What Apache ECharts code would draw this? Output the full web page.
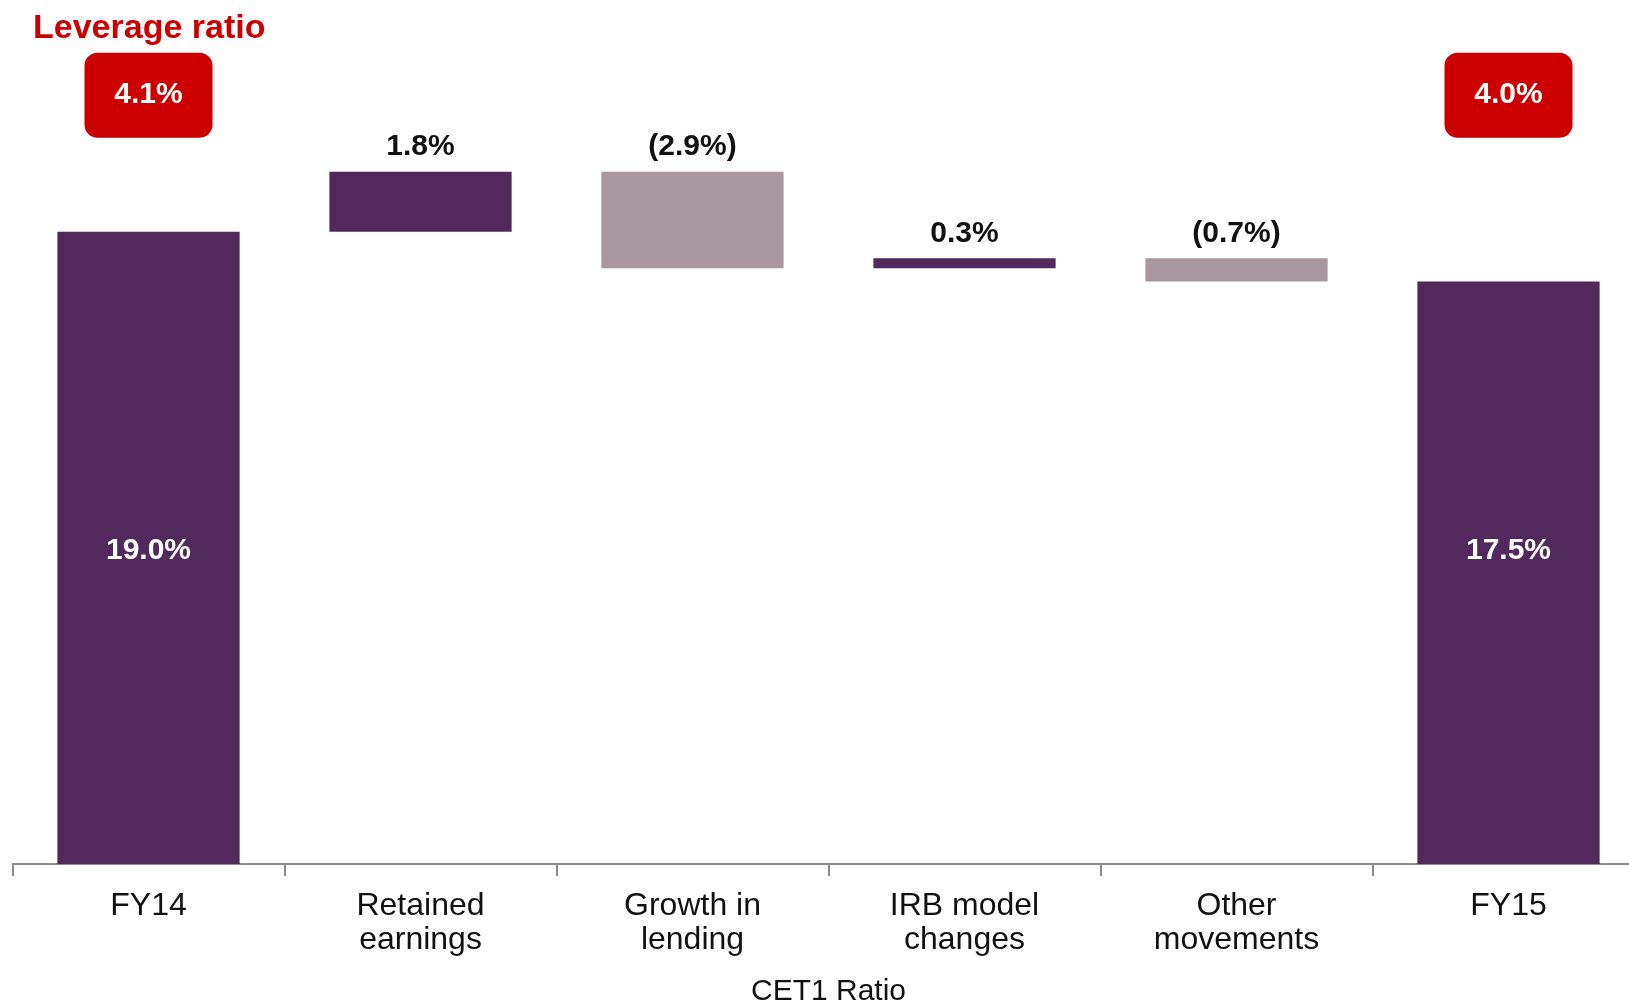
<!DOCTYPE html>
<html>
<head>
<meta charset="utf-8">
<script src="https://cdn.jsdelivr.net/npm/echarts@6/dist/echarts.min.js"></script>
<style>
  html, body { margin: 0; padding: 0; background: #fff; }
  #chart { width: 1629px; height: 1004px; }
</style>
</head>
<body>
<div id="chart"></div>
<script>
const categories = ['FY14', 'Retained\nearnings', 'Growth in\nlending', 'IRB model\nchanges', 'Other\nmovements', 'FY15']
// CET1 movements, % points (first and last are totals)
const changes = [19.0, 1.8, -2.9, 0.3, -0.7, 17.5]
const valueLabels = ['19.0%', '1.8%', '(2.9%)', '0.3%', '(0.7%)', '17.5%']
const leverageCats = ['FY14', 'FY15']
const leverageValues = [4.1, 4.0]

const DARK = '#52295d'
const LIGHT = '#a8979f'
const RED = '#cc0000'
const FONT = '"Liberation Sans", Arial, sans-serif'

// build waterfall base + visible heights
const base = []
const heights = []
let running = 0
for (let i = 0; i < changes.length; i++) {
    const v = changes[i]
    if (i === 0 || i === changes.length - 1) {
        base.push(0)
        heights.push(Math.abs(v))
        running = v
    } else if (v >= 0) {
        base.push(running)
        heights.push(v)
        running += v
    } else {
        running += v
        base.push(running)
        heights.push(-v)
    }
}

const barData = heights.map((h, i) => {
    const total = i === 0 || i === changes.length - 1
    return {
        value: h,
        itemStyle: { color: changes[i] >= 0 ? DARK : LIGHT },
        label: total ? {
            show: true, position: 'insideBottom', distance: 298, color: '#fff',
            fontSize: 30, fontWeight: 'bold', fontFamily: FONT,
            formatter: () => valueLabels[i]
        } : {
            show: true, position: 'top', distance: 10, color: '#111',
            fontSize: 30, fontWeight: 'bold', fontFamily: FONT,
            formatter: () => valueLabels[i]
        }
    }
})

// leverage boxes sit above the total bars
const boxY = 23.1
const leverageData = categories.map(c => {
    const k = leverageCats.indexOf(c)
    return k >= 0 ? { value: boxY, leverage: leverageValues[k] } : null
})

const myChart = echarts.init(document.getElementById('chart'))

let option = {
    animation: false,
    title: {
        text: 'Leverage ratio',
        left: 28,
        top: 7,
        textStyle: { color: RED, fontSize: 34, fontWeight: 'bold', fontFamily: FONT }
    },
    grid: {
        left: 12.5,
        width: 1632,
        top: 32,
        bottom: 140,
        containLabel: false,
        outerBoundsMode: 'none'
    },
    xAxis: {
        type: 'category',
        data: categories,
        name: 'CET1 Ratio',
        nameLocation: 'middle',
        nameGap: 128,
        nameTextStyle: { color: '#111', fontSize: 30, fontFamily: FONT, verticalAlign: 'middle' },
        axisLine: { lineStyle: { color: '#8c8c8c', width: 2 } },
        axisTick: { show: true, interval: 0, length: 12, lineStyle: { color: '#8c8c8c', width: 2 } },
        axisLabel: {
            color: '#111', fontSize: 32, fontFamily: FONT,
            lineHeight: 34, margin: 25, interval: 0
        }
    },
    yAxis: {
        type: 'value',
        show: false,
        min: 0,
        max: 25,
        splitLine: { show: false }
    },
    series: [
        {
            name: 'base',
            type: 'bar',
            stack: 'wf',
            data: base,
            itemStyle: { color: 'transparent' },
            barCategoryGap: '33%',
            silent: true
        },
        {
            name: 'CET1',
            type: 'bar',
            stack: 'wf',
            data: barData,
            barCategoryGap: '33%'
        },
        {
            name: 'Leverage',
            type: 'scatter',
            data: leverageData,
            symbolSize: 1,
            itemStyle: { color: 'transparent', opacity: 1 },
            label: {
                show: true,
                position: 'inside',
                formatter: p => p.data.leverage.toFixed(1) + '%',
                backgroundColor: RED,
                borderRadius: 13,
                width: 128,
                height: 79,
                lineHeight: 79,
                padding: [6, 0, 0, 0],
                align: 'center',
                verticalAlign: 'middle',
                color: '#fff',
                fontSize: 30,
                fontWeight: 'bold',
                fontFamily: FONT
            }
        }
    ]
}
option && myChart.setOption(option)
</script>
</body>
</html>
